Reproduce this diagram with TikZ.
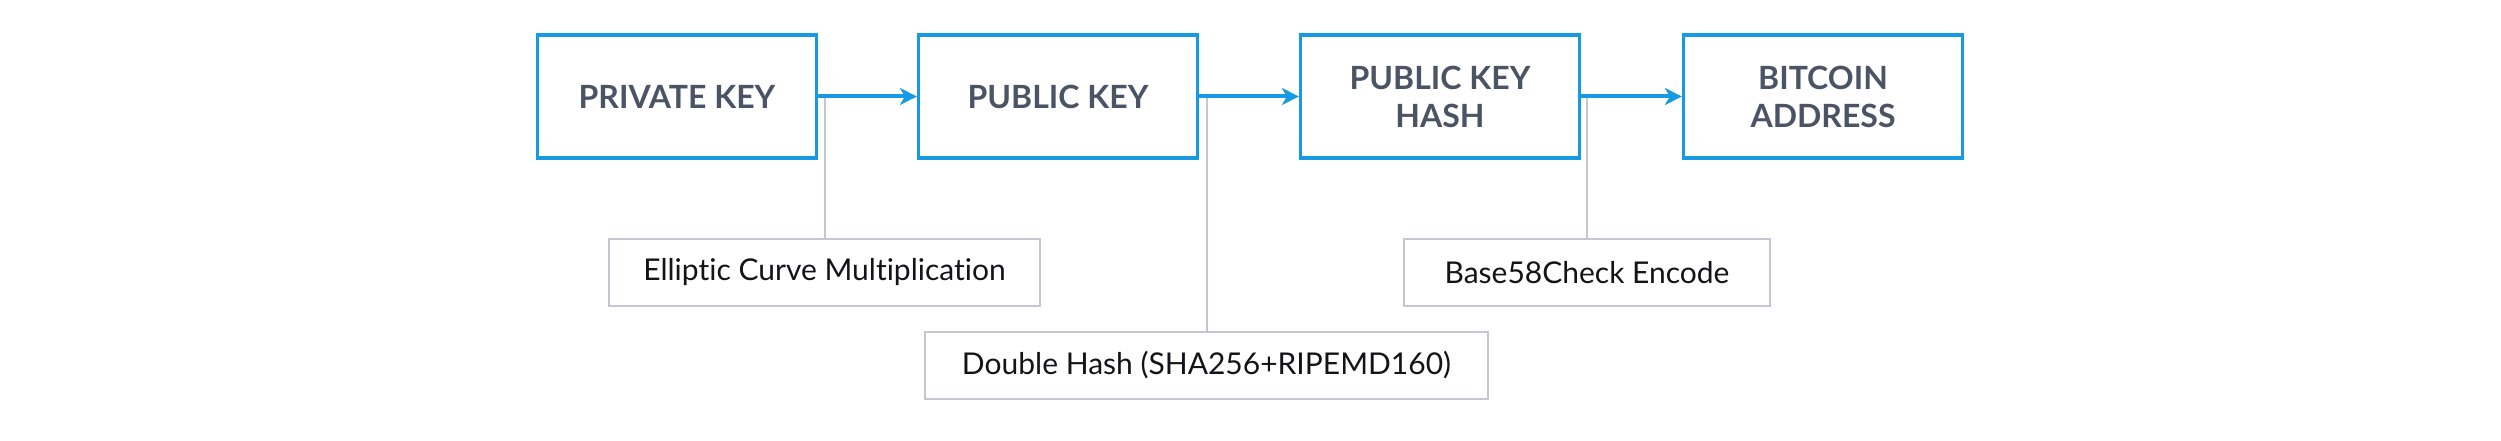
\documentclass[tikz,border=0pt]{standalone}
\usepackage{fontspec}
\setmainfont{Lato}[Ligatures={NoCommon}]
\usetikzlibrary{arrows.meta}
\definecolor{kblue}{RGB}{22,155,227}
\definecolor{ktext}{RGB}{74,84,101}
\definecolor{kgray}{RGB}{197,197,212}
\definecolor{klab}{RGB}{20,20,24}
\tikzset{
  keybox/.style={draw=kblue, line width=3.2pt, minimum width=279pt, minimum height=123pt,
    align=center, inner sep=0pt, text=ktext, font=\fontsize{32}{38}\selectfont\bfseries},
  labbox/.style={draw=kgray, line width=2pt, minimum height=67pt, inner sep=0pt,
    text=klab, font=\fontsize{30}{34}\selectfont},
  flow/.style={draw=kblue, line width=4pt, -{Stealth[length=17pt,width=17pt,inset=5pt]}},
  tie/.style={draw=kgray, line width=2pt}
}
\begin{document}
\begin{tikzpicture}[x=1pt,y=-1pt]
\useasboundingbox (0,0) rectangle (2501,441);
\node[keybox] (a) at (677,96.5) {PRIVATE KEY};
\node[keybox] (b) at (1058,96.5) {PUBLIC KEY};
\node[keybox] (c) at (1440,96.5) {PUBLIC KEY\\HASH};
\node[keybox] (d) at (1823,96.5) {BITCOIN\\ADDRESS};
\node[labbox, minimum width=431pt] (l1) at (824.5,272.5) {Elliptic Curve Multiplication};
\node[labbox, minimum width=563pt] (l2) at (1206.5,365.5) {Double Hash (SHA256+RIPEMD160)};
\node[labbox, minimum width=366pt] (l3) at (1587,272.5) {Base58Check Encode};
\draw[tie] (l1.north) -- (l1.north |- a.east);
\draw[tie] (l2.north) -- (l2.north |- b.east);
\draw[tie] (l3.north) -- (l3.north |- c.east);
\draw[flow] (a.east) -- (b.west);
\draw[flow] (b.east) -- (c.west);
\draw[flow] (c.east) -- (d.west);
\end{tikzpicture}
\end{document}
